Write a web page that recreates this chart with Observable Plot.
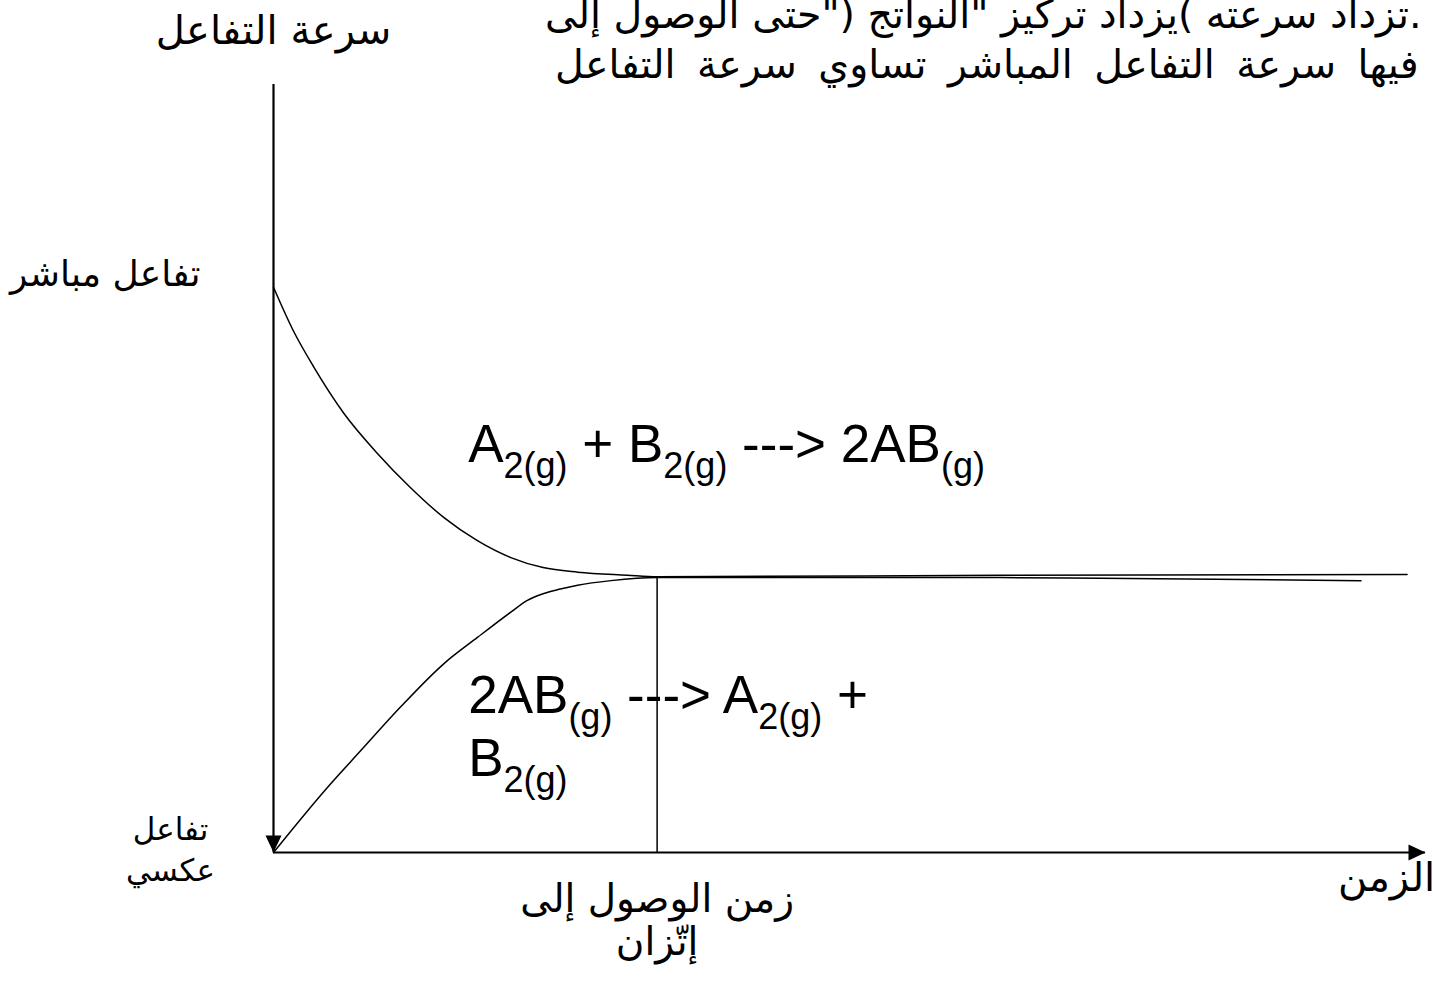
<!DOCTYPE html>
<html><head><meta charset="utf-8">
<script src="https://cdn.jsdelivr.net/npm/d3@7"></script>
<script src="https://cdn.jsdelivr.net/npm/@observablehq/plot@0.6"></script>
<style>html,body{margin:0;padding:0;background:#fff}#chart svg{display:block}</style>
</head><body><div id="chart"></div>
<script>
// Forward reaction rate (falls to equilibrium)
const forwardT = [0, 0.17, 0.35, 0.61, 0.90, 1.19, 1.48, 1.77, 2.06, 2.34, 2.64, 3.07, 3.33, 6.31, 9.84];
const forwardR = [7.36, 6.80, 6.32, 5.72, 5.20, 4.75, 4.36, 4.06, 3.84, 3.71, 3.65, 3.61, 3.59, 3.61, 3.62];
// Reverse reaction rate (rises to equilibrium)
const reverseT = [0, 0.47, 0.76, 1.10, 1.48, 1.77, 2.06, 2.20, 2.34, 2.49, 2.64, 2.93, 3.33, 6.31, 7.18, 9.44];
const reverseR = [0, 0.85, 1.33, 1.89, 2.46, 2.80, 3.13, 3.28, 3.37, 3.43, 3.48, 3.54, 3.58, 3.58, 3.57, 3.54];
// Equilibrium time and rate
const equilibriumT = 3.33;
const equilibriumR = 3.58;
// Axis extents
const axisMaxT = 10;
const axisMaxR = 10;

// Texts
const yTitle = "سرعة التفاعل";
const xTitle = "الزمن";
const forwardLabel = "تفاعل مباشر";
const reverseLabel = "تفاعل\nعكسي";
const eqTimeLabel = "زمن الوصول إلى\nإتّزان";
const forwardEq = "A_{2(g)} + B_{2(g)} ---> 2AB_{(g)}";
const reverseEq1 = "2AB_{(g)} ---> A_{2(g)} +";
const reverseEq2 = "B_{2(g)}";
const noteLine1 = 'تزداد سرعته )يزداد تركيز "النواتج ("حتى الوصول إلى.';
const noteLine2 = "فيها سرعة التفاعل المباشر تساوي سرعة التفاعل";

const forward = forwardT.map((t, i) => ({t, r: forwardR[i]}));
const reverse = reverseT.map((t, i) => ({t, r: reverseR[i]}));

const arrowRight = {draw(c) { c.moveTo(0, 0); c.lineTo(-17, -8); c.lineTo(-17, 8); c.closePath(); }};
const arrowDown = {draw(c) { c.moveTo(0, 0); c.lineTo(-8, -17); c.lineTo(8, -17); c.closePath(); }};

const AR = "DejaVu Sans, sans-serif";
const LAT = "Liberation Sans, Arial, sans-serif";

const svg = Plot.plot({
  width: 1433, height: 987,
  marginLeft: 273, marginRight: 8, marginTop: 84, marginBottom: 135,
  x: {domain: [0, axisMaxT], axis: null},
  y: {domain: [0, axisMaxR], axis: null},
  style: {background: "white", overflow: "visible", color: "black"},
  marks: [
    Plot.ruleY([0], {x1: 0, x2: axisMaxT, stroke: "black", strokeWidth: 2.2}),
    Plot.ruleX([0], {y1: 0, y2: axisMaxR, stroke: "black", strokeWidth: 2.2}),
    Plot.dot([{t: axisMaxT, r: 0}], {x: "t", y: "r", symbol: arrowRight, fill: "black", stroke: null}),
    Plot.dot([{t: 0, r: 0}], {x: "t", y: "r", symbol: arrowDown, fill: "black", stroke: null}),
    Plot.line(forward, {x: "t", y: "r", curve: "monotone-x", stroke: "black", strokeWidth: 1.5}),
    Plot.line(reverse, {x: "t", y: "r", curve: "monotone-x", stroke: "black", strokeWidth: 1.5}),
    Plot.ruleX([equilibriumT], {y1: 0, y2: equilibriumR, stroke: "black", strokeWidth: 1.5}),
    Plot.text([yTitle], {x: 0, y: 10.53, text: d => d, fontFamily: AR, fontSize: 40, textAnchor: "middle", lineAnchor: "bottom", fill: "black"}),
    Plot.text([forwardLabel], {x: -0.634, y: 7.38, text: d => d, fontFamily: AR, fontSize: 36, textAnchor: "end", lineAnchor: "bottom", fill: "black"}),
    Plot.text([reverseLabel], {x: -0.894, y: -0.365, text: d => d, fontFamily: AR, fontSize: 31, textAnchor: "middle", lineAnchor: "bottom", lineHeight: 1.32, fill: "black"}),
    Plot.text([eqTimeLabel], {x: equilibriumT, y: -1.34, text: d => d, fontFamily: AR, fontSize: 39, textAnchor: "middle", lineAnchor: "bottom", lineHeight: 1.12, fill: "black"}),
    Plot.text([xTitle], {x: 9.24, y: -0.495, text: d => d, fontFamily: AR, fontSize: 40, textAnchor: "start", lineAnchor: "bottom", fill: "black"}),
    Plot.text([noteLine1], {x: 9.965, y: 10.74, text: d => d, fontFamily: AR, fontSize: 39.5, textAnchor: "end", lineAnchor: "bottom", fill: "black"}),
    Plot.text([noteLine2], {x: 9.94, y: 10.08, text: d => d, fontFamily: AR, fontSize: 39.5, textAnchor: "end", lineAnchor: "bottom", fill: "black"}),
    Plot.text([forwardEq], {x: 1.69, y: 5.08, text: d => d, fontFamily: LAT, fontSize: 53, textAnchor: "start", lineAnchor: "bottom", fill: "black"}),
    Plot.text([reverseEq1], {x: 1.69, y: 1.82, text: d => d, fontFamily: LAT, fontSize: 53, textAnchor: "start", lineAnchor: "bottom", fill: "black"}),
    Plot.text([reverseEq2], {x: 1.69, y: 1.00, text: d => d, fontFamily: LAT, fontSize: 53, textAnchor: "start", lineAnchor: "bottom", fill: "black"})
  ]
});

// Turn _{...} markup into real subscript tspans; justify the second note line
const SUB_SIZE = 36, SUB_SHIFT = 16;
for (const text of svg.querySelectorAll("text")) {
  const raw = text.textContent;
  if (raw === noteLine2) text.setAttribute("word-spacing", 9);
  if (!raw.includes("_{")) continue;
  text.textContent = "";
  let down = false;
  for (const part of raw.split(/(_\{[^}]*\})/)) {
    if (!part) continue;
    const ts = document.createElementNS("http://www.w3.org/2000/svg", "tspan");
    const isSub = part.startsWith("_{");
    ts.textContent = isSub ? part.slice(2, -1) : part;
    if (isSub) {
      ts.setAttribute("font-size", SUB_SIZE);
      if (!down) { ts.setAttribute("dy", SUB_SHIFT); down = true; }
    } else if (down) {
      ts.setAttribute("dy", -SUB_SHIFT); down = false;
    }
    text.appendChild(ts);
  }
}
document.getElementById("chart").appendChild(svg);
</script>
</body></html>
